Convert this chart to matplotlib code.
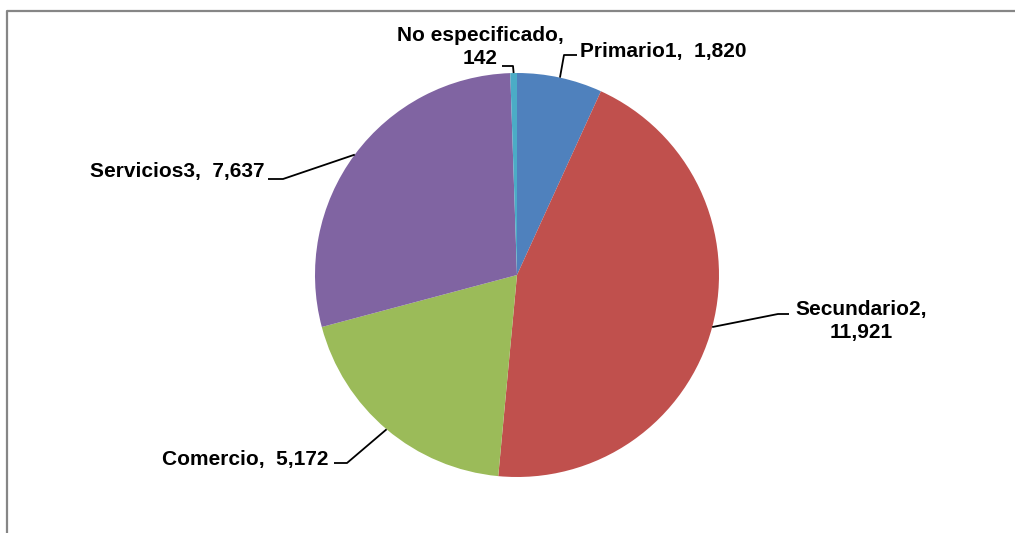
import matplotlib.pyplot as plt
import numpy as np

plt.rcParams["font.family"] = ["Liberation Sans", "DejaVu Sans"]

labels = ["No especificado", "Primario1", "Secundario2", "Comercio", "Servicios3"]
values = [142, 1820, 11921, 5172, 7637]
value_text = ["142", "1,820", "11,921", "5,172", "7,637"]
colors = ["#4BACC6", "#4F81BD", "#C0504D", "#9BBB59", "#8064A2"]

# label layout in image pixels: text anchor, elbow point, end of the short horizontal
text_pos = [(480, 47), (580, 51), (861, 321), (329, 460), (265, 172)]
text_ha = ["center", "left", "center", "right", "right"]
elbow = [(513, 66), (564, 55), (778, 314), (347, 463), (283, 179)]
hend = [(502, 66), (577, 55), (789, 314), (334, 463), (268, 179)]
label_str = ["No especificado,\n142", "Primario1,  1,820", "Secundario2,\n11,921",
             "Comercio,  5,172", "Servicios3,  7,637"]

W, H = 1015, 533
fig = plt.figure(figsize=(W / 100, H / 100), dpi=100)
ax = fig.add_axes([0, 0, 1, 1])

cx, cy, r = 517, 275, 202
# order the pie so it runs clockwise from 12 o'clock: Primario first, No especificado last
order = [1, 2, 3, 4, 0]
wedges, _ = ax.pie([values[i] for i in order], colors=[colors[i] for i in order],
                   startangle=-90, counterclock=True, center=(cx, cy), radius=r,
                   wedgeprops=dict(linewidth=0), frame=True)
ax.set_xlim(0, W)
ax.set_ylim(H, 0)
ax.set_aspect("auto")
ax.axis("off")

for k, i in enumerate(order):
    w = wedges[k]
    mid = np.deg2rad((w.theta1 + w.theta2) / 2)
    px, py = cx + r * np.cos(mid), cy + r * np.sin(mid)
    ex, ey = elbow[i]
    hx, hy = hend[i]
    ax.plot([px, ex, hx], [py, ey, hy], color="black", lw=1.3, solid_capstyle="butt")
    ax.text(text_pos[i][0], text_pos[i][1], label_str[i], ha=text_ha[i], va="center",
            multialignment="center", fontsize=15, fontweight="bold", linespacing=1.3)

# chart frame (only top and left edges fall inside the picture)
ax.plot([7, 7, W + 5], [H + 5, 11, 11], color="#868686", lw=1.6, clip_on=False)

fig.savefig("out.png", dpi=100)
